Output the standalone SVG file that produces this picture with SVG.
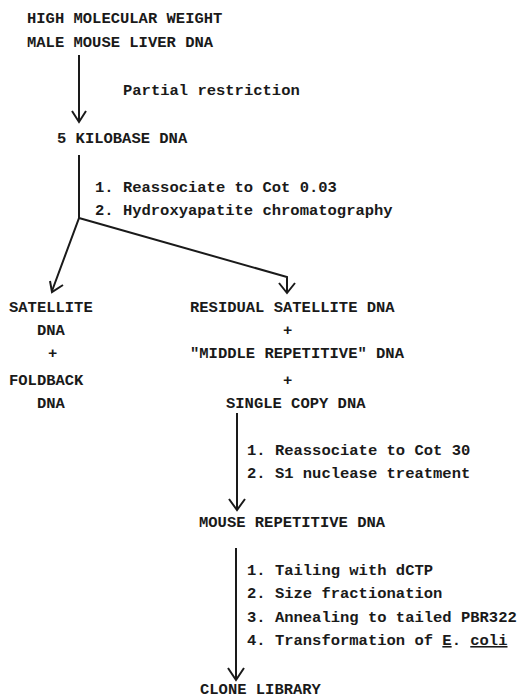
<svg xmlns="http://www.w3.org/2000/svg" width="524" height="699" viewBox="0 0 524 699">
<style>
text{font-family:"Liberation Mono","Courier New",monospace;font-weight:bold;font-size:15.5px;fill:#1a1a1a}
.ln{fill:none;stroke:#1a1a1a;stroke-width:2}
.hd{fill:none;stroke:#1a1a1a;stroke-width:2;stroke-linejoin:miter}
</style>
<rect width="524" height="699" fill="#fff"/>
<g id="n-hmw"><text x="27" y="23">HIGH MOLECULAR WEIGHT</text><text x="27" y="47">MALE MOUSE LIVER DNA</text></g>
<g id="n-5kb"><text x="57" y="143">5 KILOBASE DNA</text></g>
<g id="n-sat"><text x="9" y="312">SATELLITE</text><text x="37" y="335">DNA</text><text x="48" y="358">+</text><text x="9" y="385">FOLDBACK</text><text x="37" y="408">DNA</text></g>
<g id="n-res"><text x="190" y="312">RESIDUAL SATELLITE DNA</text><text x="283" y="335">+</text><text x="190" y="358">"MIDDLE REPETITIVE" DNA</text><text x="283" y="385">+</text><text x="226" y="408">SINGLE COPY DNA</text></g>
<g id="n-mrep"><text x="199" y="527">MOUSE REPETITIVE DNA</text></g>
<g id="n-clone"><text x="200" y="694">CLONE LIBRARY</text></g>
<g id="labels">
<text x="123" y="95">Partial restriction</text>
<text x="95" y="192">1. Reassociate to Cot 0.03</text>
<text x="95" y="215">2. Hydroxyapatite chromatography</text>
<text x="247" y="455">1. Reassociate to Cot 30</text>
<text x="247" y="478">2. S1 nuclease treatment</text>
<text x="247" y="575">1. Tailing with dCTP</text>
<text x="247" y="598">2. Size fractionation</text>
<text x="247" y="622">3. Annealing to tailed PBR322</text>
<text x="247" y="645">4. Transformation of <tspan text-decoration="underline">E</tspan>. <tspan text-decoration="underline">coli</tspan></text>
</g>
<g id="connectors">
<path class="ln" d="M79 55V121"/><path class="hd" d="M72 111L79 122L86 111"/>
<path class="ln" d="M79 155V218L52 291"/><path class="hd" d="M50 281L52 292L63 285"/>
<path class="ln" d="M79 218L287 277V292"/><path class="hd" d="M279 283L287 293L295 283"/>
<path class="ln" d="M237 413V509"/><path class="hd" d="M229 499L237 510L245 499"/>
<path class="ln" d="M236 548V679"/><path class="hd" d="M228 668L236 680L244 668"/>
</g>
</svg>
